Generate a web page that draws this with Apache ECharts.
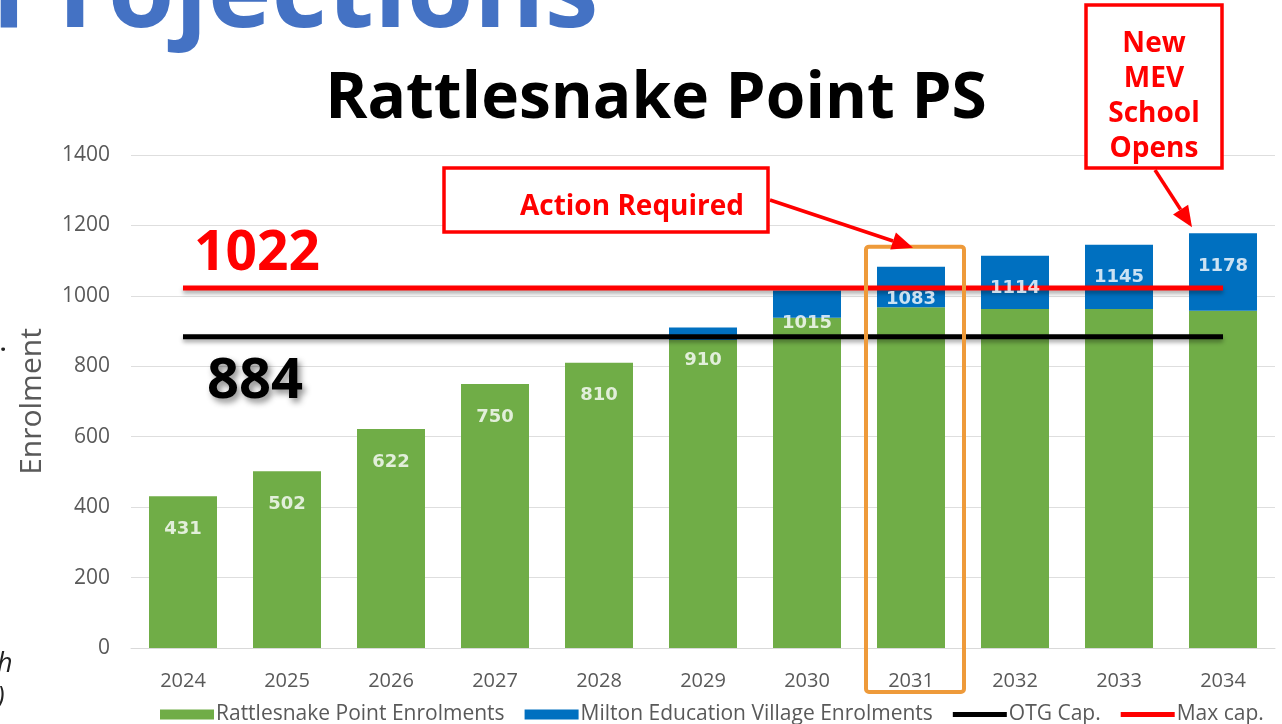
<!DOCTYPE html>
<html>
<head>
<meta charset="utf-8">
<title>Rattlesnake Point PS</title>
<script src="https://cdn.jsdelivr.net/npm/echarts@6/dist/echarts.min.js"></script>
<style>
  html, body { margin: 0; padding: 0; background: #fff; }
  #chart { width: 1282px; height: 724px; }
</style>
</head>
<body>
<div id="chart"></div>
<script>
// data
let years = ["2024", "2025", "2026", "2027", "2028", "2029", "2030", "2031", "2032", "2033", "2034"];
let rattlesnake = [431, 502, 622, 750, 810, 875, 938, 968, 963, 963, 958];
let milton = [0, 0, 0, 0, 0, 35, 77, 115, 151, 182, 220];
let totals = [431, 502, 622, 750, 810, 910, 1015, 1083, 1114, 1145, 1178];
let otgCap = [884, 884, 884, 884, 884, 884, 884, 884, 884, 884, 884];
let maxCap = [1022, 1022, 1022, 1022, 1022, 1022, 1022, 1022, 1022, 1022, 1022];
let yTicks = [0, 200, 400, 600, 800, 1000, 1200, 1400];

let font = "'Open Sans', 'Noto Sans', sans-serif";
let gray = "#595959";
// thick line icon for the legend (the two tiny moves keep the box 10px high)
let lineIcon = 'path://M0,0L0.1,0M0,10L0.1,10M0,2.5L54,2.5L54,7.5L0,7.5Z';

let myChart = echarts.init(document.getElementById('chart'));

let lineShadow = {
    shadowColor: 'rgba(0,0,0,0.35)',
    shadowBlur: 4,
    shadowOffsetY: 3
};

let option = {
    animation: false,
    backgroundColor: '#fff',
    grid: { left: 131, right: 7, top: 155, bottom: 76 },
    legend: {
        left: 155,
        top: 699,
        itemWidth: 54,
        itemHeight: 10,
        itemGap: 20,
        textStyle: { fontFamily: font, fontSize: 21, color: gray, padding: [0, 0, 0, -3] },
        data: [
            { name: 'Rattlesnake Point Enrolments', icon: 'rect' },
            { name: 'Milton Education Village Enrolments', icon: 'rect' },
            { name: 'OTG Cap.', icon: lineIcon },
            { name: 'Max cap.', icon: lineIcon }
        ]
    },
    xAxis: {
        type: 'category',
        data: years,
        axisLine: { lineStyle: { color: '#d9d9d9', width: 1 } },
        axisTick: { show: false },
        axisLabel: { fontFamily: font, fontSize: 20, color: gray, margin: 23 }
    },
    yAxis: {
        type: 'value',
        min: yTicks[0],
        max: yTicks[yTicks.length - 1],
        interval: 200,
        name: 'Enrolment',
        nameLocation: 'middle',
        nameGap: 84,
        nameTextStyle: { fontFamily: font, fontSize: 30, color: gray },
        axisLine: { show: false },
        axisTick: { show: false },
        splitLine: { lineStyle: { color: '#dedede', width: 1 } },
        axisLabel: {
            fontFamily: font, fontSize: 21, color: gray, margin: 21,
            formatter: function (v) { return String(v); }
        }
    },
    series: [
        {
            name: 'Rattlesnake Point Enrolments',
            type: 'bar',
            stack: 'enrol',
            barWidth: 68,
            itemStyle: { color: '#70AD47' },
            data: rattlesnake
        },
        {
            name: 'Milton Education Village Enrolments',
            type: 'bar',
            stack: 'enrol',
            barWidth: 68,
            itemStyle: { color: '#0070C0' },
            data: milton
        },
        {
            name: 'OTG Cap.',
            type: 'line',
            symbol: 'none',
            lineStyle: Object.assign({ color: '#000', width: 5 }, lineShadow),
            itemStyle: { color: '#000' },
            data: otgCap
        },
        {
            name: 'Max cap.',
            type: 'line',
            symbol: 'none',
            lineStyle: Object.assign({ color: '#FF0000', width: 5 }, lineShadow),
            itemStyle: { color: '#FF0000' },
            data: maxCap
        },
        {
            // totals shown as labels near the top of each stack
            name: 'totals',
            type: 'scatter',
            symbolSize: 1,
            z: 5,
            itemStyle: { color: 'rgba(0,0,0,0)' },
            label: {
                show: true,
                position: 'inside',
                offset: [0, 33],
                formatter: function (p) { return p.value; },
                fontFamily: "'DejaVu Sans', sans-serif",
                fontWeight: 'bold',
                fontSize: 18,
                color: '#fff'
            },
            data: totals
        }
    ]
};
myChart.setOption(option);

// annotations positioned from the axes
function arrow(x1, y1, x2, y2) {
    let len = Math.hypot(x2 - x1, y2 - y1);
    let ux = (x2 - x1) / len, uy = (y2 - y1) / len;
    let head = 21, half = 9;
    let bx = x2 - ux * head, by = y2 - uy * head;
    return [
        { type: 'line', z: 10, shape: { x1: x1, y1: y1, x2: bx, y2: by },
          style: { stroke: '#FF0000', lineWidth: 3.5 } },
        { type: 'polygon', z: 10,
          shape: { points: [[x2, y2], [bx - uy * half, by + ux * half], [bx + uy * half, by - ux * half]] },
          style: { fill: '#FF0000' } }
    ];
}

let p2031 = myChart.convertToPixel({ seriesIndex: 0 }, ['2031', totals[7]]);
let p2034 = myChart.convertToPixel({ seriesIndex: 0 }, ['2034', totals[10]]);
let yBase = myChart.convertToPixel({ seriesIndex: 0 }, ['2031', 0])[1];

let graphics = [
    { type: 'text', z: 10, style: { x: -9, y: -4, text: 'Projections', fill: '#4472C4',
        font: "bold 108px 'Open Sans'", align: 'left', verticalAlign: 'middle' } },
    { type: 'text', z: 10, style: { x: 656, y: 100, text: 'Rattlesnake Point PS', fill: '#000',
        font: "bold 64px 'Open Sans'", align: 'center', verticalAlign: 'middle' } },
    { type: 'text', z: 10, style: { x: 257, y: 254, text: '1022', fill: '#FF0000',
        font: "bold 55px 'Open Sans'", align: 'center', verticalAlign: 'middle' } },
    { type: 'text', z: 10, style: { x: 255, y: 382, text: '884', fill: '#000',
        font: "bold 56px 'Open Sans'", align: 'center', verticalAlign: 'middle',
        textShadowColor: 'rgba(0,0,0,0.45)', textShadowBlur: 6, textShadowOffsetX: 3, textShadowOffsetY: 4 } },
    // orange box around 2031
    { type: 'rect', z: 10, shape: { x: p2031[0] - 45, y: p2031[1] - 20, width: 98, height: yBase + 44 - (p2031[1] - 20), r: 3 },
      style: { fill: 'none', stroke: '#EE9A3A', lineWidth: 4 } },
    // Action Required callout
    { type: 'rect', z: 10, shape: { x: 444, y: 168, width: 324, height: 64 },
      style: { fill: '#fff', stroke: '#FF0000', lineWidth: 3.5 } },
    { type: 'text', z: 11, style: { x: 632, y: 207, text: 'Action Required', fill: '#FF0000',
        font: "bold 28px 'Open Sans'", align: 'center', verticalAlign: 'middle' } },
    // New MEV School Opens callout
    { type: 'rect', z: 10, shape: { x: 1086, y: 5, width: 136, height: 163 },
      style: { fill: '#fff', stroke: '#FF0000', lineWidth: 3.5 } },
    { type: 'text', z: 11, style: { x: 1154, y: 97, text: 'New\nMEV\nSchool\nOpens', fill: '#FF0000',
        font: "bold 28px 'Open Sans'", lineHeight: 35, align: 'center', verticalAlign: 'middle' } },
    // bits of slide text cut off at the left edge
    { type: 'text', z: 10, style: { x: 0, y: 345, text: '.', fill: '#222',
        font: "bold 22px 'Open Sans'", align: 'left', verticalAlign: 'middle' } },
    { type: 'text', z: 10, style: { x: -3, y: 664, text: 'h', fill: '#222',
        font: "italic 27px 'Open Sans'", align: 'left', verticalAlign: 'middle' } },
    { type: 'text', z: 10, style: { x: -3, y: 698, text: ')', fill: '#222',
        font: "italic 27px 'Open Sans'", align: 'left', verticalAlign: 'middle' } }
];
graphics = graphics.concat(arrow(770, 200, p2031[0] + 2, p2031[1] - 19));
graphics = graphics.concat(arrow(1155, 170, p2034[0] - 31, p2034[1] - 6));

myChart.setOption({ graphic: graphics });
</script>
</body>
</html>
